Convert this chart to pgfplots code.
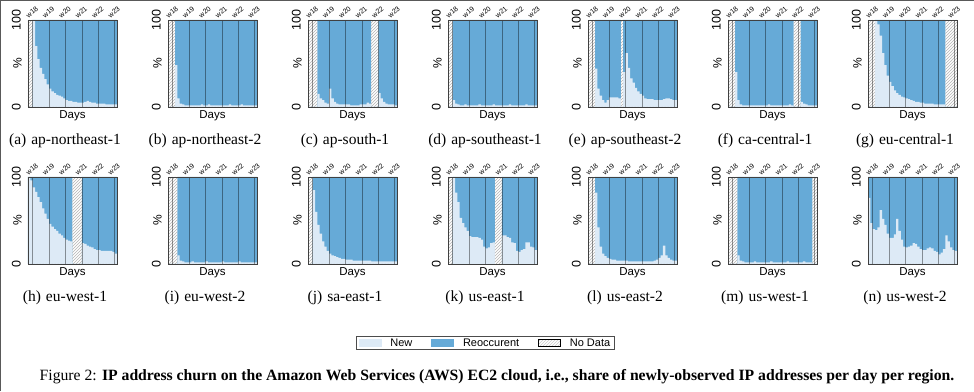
\documentclass[border=0pt]{standalone}
\usepackage{fontspec}
\setmainfont{Liberation Serif}
\setsansfont{Liberation Sans}
\usepackage{graphicx}
\usepackage{pgfplots}
\pgfplotsset{compat=1.18}
\usepackage{pgfplotstable}
\usetikzlibrary{patterns}

\definecolor{newc}{HTML}{DDEAF6}
\definecolor{reoc}{HTML}{66AAD7}
\definecolor{hatchc}{HTML}{B4B4B4}

% columns: day, share of new IPs (%), total (100 = data present), no data (100 = missing)
\pgfplotstableread[row sep=\\]{
d new tot nd\\
0 0 0 100\\1 0 0 100\\2 100 100 0\\3 70 100 0\\4 55 100 0\\5 45 100 0\\6 38 100 0\\7 32 100 0\\8 26 100 0\\9 21 100 0\\
10 18 100 0\\11 16 100 0\\12 14 100 0\\13 13 100 0\\14 12 100 0\\15 10 100 0\\16 8 100 0\\17 7 100 0\\18 7 100 0\\19 6 100 0\\
20 6 100 0\\21 5 100 0\\22 5 100 0\\23 5 100 0\\24 6 100 0\\25 7 100 0\\26 6 100 0\\27 5 100 0\\28 5 100 0\\29 4 100 0\\
30 4 100 0\\31 4 100 0\\32 4 100 0\\33 3 100 0\\34 3 100 0\\35 3 100 0\\36 3 100 0\\37 3 100 0\\
}\tA
\pgfplotstableread[row sep=\\]{
d new tot nd\\
0 0 0 100\\1 0 0 100\\2 0 0 100\\3 48 100 0\\4 10 100 0\\5 4 100 0\\6 3 100 0\\7 2 100 0\\8 2 100 0\\9 2 100 0\\
10 2 100 0\\11 2 100 0\\12 2 100 0\\13 2 100 0\\14 3 100 0\\15 2 100 0\\16 2 100 0\\17 3 100 0\\18 2 100 0\\19 2 100 0\\
20 2 100 0\\21 2 100 0\\22 2 100 0\\23 2 100 0\\24 2 100 0\\25 2 100 0\\26 3 100 0\\27 2 100 0\\28 2 100 0\\29 2 100 0\\
30 2 100 0\\31 3 100 0\\32 2 100 0\\33 2 100 0\\34 2 100 0\\35 2 100 0\\36 2 100 0\\37 2 100 0\\
}\tB
\pgfplotstableread[row sep=\\]{
d new tot nd\\
0 0 0 100\\1 0 0 100\\2 0 0 100\\3 0 0 100\\4 15 100 0\\5 10 100 0\\6 8 100 0\\7 5 100 0\\8 4 100 0\\9 21 100 0\\
10 10 100 0\\11 6 100 0\\12 4 100 0\\13 3 100 0\\14 3 100 0\\15 3 100 0\\16 3 100 0\\17 3 100 0\\18 2 100 0\\19 2 100 0\\
20 2 100 0\\21 2 100 0\\22 3 100 0\\23 3 100 0\\24 3 100 0\\25 5 100 0\\26 4 100 0\\27 0 0 100\\28 0 0 100\\29 0 0 100\\
30 16 100 0\\31 10 100 0\\32 6 100 0\\33 4 100 0\\34 3 100 0\\35 3 100 0\\36 3 100 0\\37 2 100 0\\
}\tC
\pgfplotstableread[row sep=\\]{
d new tot nd\\
0 0 0 100\\1 0 0 100\\2 8 100 0\\3 4 100 0\\4 3 100 0\\5 2 100 0\\6 2 100 0\\7 3 100 0\\8 2 100 0\\9 2 100 0\\
10 2 100 0\\11 2 100 0\\12 2 100 0\\13 3 100 0\\14 2 100 0\\15 2 100 0\\16 2 100 0\\17 2 100 0\\18 2 100 0\\19 3 100 0\\
20 2 100 0\\21 2 100 0\\22 2 100 0\\23 2 100 0\\24 2 100 0\\25 2 100 0\\26 3 100 0\\27 2 100 0\\28 2 100 0\\29 2 100 0\\
30 2 100 0\\31 2 100 0\\32 2 100 0\\33 3 100 0\\34 2 100 0\\35 2 100 0\\36 2 100 0\\37 2 100 0\\
}\tD
\pgfplotstableread[row sep=\\]{
d new tot nd\\
0 0 0 100\\1 0 0 100\\2 0 0 100\\3 44 100 0\\4 21 100 0\\5 13 100 0\\6 8 100 0\\7 5 100 0\\8 8 100 0\\9 11 100 0\\
10 11 100 0\\11 11 100 0\\12 11 100 0\\13 10 100 0\\14 0 0 100\\15 40 100 0\\16 62 100 0\\17 45 100 0\\18 33 100 0\\19 28 100 0\\
20 22 100 0\\21 18 100 0\\22 15 100 0\\23 13 100 0\\24 10 100 0\\25 9 100 0\\26 9 100 0\\27 9 100 0\\28 8 100 0\\29 8 100 0\\
30 8 100 0\\31 8 100 0\\32 9 100 0\\33 10 100 0\\34 10 100 0\\35 9 100 0\\36 8 100 0\\37 8 100 0\\
}\tE
\pgfplotstableread[row sep=\\]{
d new tot nd\\
0 0 0 100\\1 0 0 100\\2 0 0 100\\3 40 100 0\\4 8 100 0\\5 3 100 0\\6 2 100 0\\7 2 100 0\\8 2 100 0\\9 2 100 0\\
10 2 100 0\\11 2 100 0\\12 2 100 0\\13 2 100 0\\14 2 100 0\\15 2 100 0\\16 2 100 0\\17 3 100 0\\18 2 100 0\\19 2 100 0\\
20 2 100 0\\21 2 100 0\\22 2 100 0\\23 2 100 0\\24 2 100 0\\25 2 100 0\\26 3 100 0\\27 2 100 0\\28 0 0 100\\29 0 0 100\\
30 0 0 100\\31 6 100 0\\32 4 100 0\\33 3 100 0\\34 2 100 0\\35 2 100 0\\36 2 100 0\\37 2 100 0\\
}\tF
\pgfplotstableread[row sep=\\]{
d new tot nd\\
0 0 0 100\\1 0 0 100\\2 0 0 100\\3 100 100 0\\4 95 100 0\\5 82 100 0\\6 62 100 0\\7 48 100 0\\8 36 100 0\\9 29 100 0\\
10 24 100 0\\11 19 100 0\\12 16 100 0\\13 14 100 0\\14 12 100 0\\15 11 100 0\\16 10 100 0\\17 9 100 0\\18 8 100 0\\19 7 100 0\\
20 6 100 0\\21 6 100 0\\22 5 100 0\\23 5 100 0\\24 4 100 0\\25 4 100 0\\26 4 100 0\\27 4 100 0\\28 3 100 0\\29 3 100 0\\
30 3 100 0\\31 3 100 0\\32 3 100 0\\33 0 0 100\\34 0 0 100\\35 0 0 100\\36 0 0 100\\37 0 0 100\\
}\tG
\pgfplotstableread[row sep=\\]{
d new tot nd\\
0 100 100 0\\1 96 100 0\\2 88 100 0\\3 83 100 0\\4 77 100 0\\5 71 100 0\\6 64 100 0\\7 58 100 0\\8 52 100 0\\9 46 100 0\\
10 43 100 0\\11 40 100 0\\12 38 100 0\\13 35 100 0\\14 33 100 0\\15 30 100 0\\16 28 100 0\\17 27 100 0\\18 26 100 0\\19 0 0 100\\
20 0 0 100\\21 0 0 100\\22 0 0 100\\23 24 100 0\\24 23 100 0\\25 21 100 0\\26 20 100 0\\27 19 100 0\\28 17 100 0\\29 16 100 0\\
30 16 100 0\\31 15 100 0\\32 15 100 0\\33 15 100 0\\34 15 100 0\\35 15 100 0\\36 14 100 0\\37 12 100 0\\
}\tH
\pgfplotstableread[row sep=\\]{
d new tot nd\\
0 0 0 100\\1 0 0 100\\2 0 0 100\\3 0 0 100\\4 10 100 0\\5 4 100 0\\6 3 100 0\\7 2 100 0\\8 2 100 0\\9 2 100 0\\
10 3 100 0\\11 2 100 0\\12 2 100 0\\13 2 100 0\\14 2 100 0\\15 2 100 0\\16 3 100 0\\17 2 100 0\\18 2 100 0\\19 2 100 0\\
20 2 100 0\\21 2 100 0\\22 2 100 0\\23 3 100 0\\24 2 100 0\\25 2 100 0\\26 2 100 0\\27 2 100 0\\28 2 100 0\\29 2 100 0\\
30 3 100 0\\31 2 100 0\\32 2 100 0\\33 2 100 0\\34 2 100 0\\35 2 100 0\\36 2 100 0\\37 2 100 0\\
}\tI
\pgfplotstableread[row sep=\\]{
d new tot nd\\
0 0 0 100\\1 0 0 100\\2 85 100 0\\3 60 100 0\\4 45 100 0\\5 35 100 0\\6 26 100 0\\7 20 100 0\\8 15 100 0\\9 12 100 0\\
10 10 100 0\\11 9 100 0\\12 8 100 0\\13 7 100 0\\14 6 100 0\\15 6 100 0\\16 5 100 0\\17 5 100 0\\18 5 100 0\\19 4 100 0\\
20 4 100 0\\21 4 100 0\\22 4 100 0\\23 4 100 0\\24 4 100 0\\25 4 100 0\\26 4 100 0\\27 3 100 0\\28 3 100 0\\29 3 100 0\\
30 3 100 0\\31 3 100 0\\32 3 100 0\\33 3 100 0\\34 3 100 0\\35 3 100 0\\36 3 100 0\\37 3 100 0\\
}\tJ
\pgfplotstableread[row sep=\\]{
d new tot nd\\
0 0 0 100\\1 0 0 100\\2 100 100 0\\3 82 100 0\\4 71 100 0\\5 53 100 0\\6 47 100 0\\7 42 100 0\\8 38 100 0\\9 32 100 0\\
10 31 100 0\\11 31 100 0\\12 31 100 0\\13 30 100 0\\14 28 100 0\\15 20 100 0\\16 18 100 0\\17 19 100 0\\18 24 100 0\\19 25 100 0\\
20 0 0 100\\21 0 0 100\\22 0 0 100\\23 33 100 0\\24 33 100 0\\25 31 100 0\\26 30 100 0\\27 25 100 0\\28 24 100 0\\29 15 100 0\\
30 14 100 0\\31 16 100 0\\32 17 100 0\\33 25 100 0\\34 25 100 0\\35 20 100 0\\36 19 100 0\\37 16 100 0\\
}\tK
\pgfplotstableread[row sep=\\]{
d new tot nd\\
0 0 0 100\\1 0 0 100\\2 0 0 100\\3 82 100 0\\4 42 100 0\\5 20 100 0\\6 12 100 0\\7 9 100 0\\8 7 100 0\\9 6 100 0\\
10 5 100 0\\11 5 100 0\\12 4 100 0\\13 4 100 0\\14 4 100 0\\15 4 100 0\\16 4 100 0\\17 3 100 0\\18 3 100 0\\19 3 100 0\\
20 3 100 0\\21 3 100 0\\22 3 100 0\\23 3 100 0\\24 3 100 0\\25 3 100 0\\26 3 100 0\\27 3 100 0\\28 4 100 0\\29 5 100 0\\
30 7 100 0\\31 10 100 0\\32 21 100 0\\33 10 100 0\\34 7 100 0\\35 5 100 0\\36 4 100 0\\37 4 100 0\\
}\tL
\pgfplotstableread[row sep=\\]{
d new tot nd\\
0 0 0 100\\1 0 0 100\\2 0 0 100\\3 0 0 100\\4 10 100 0\\5 4 100 0\\6 3 100 0\\7 2 100 0\\8 2 100 0\\9 2 100 0\\
10 2 100 0\\11 3 100 0\\12 2 100 0\\13 2 100 0\\14 2 100 0\\15 2 100 0\\16 2 100 0\\17 2 100 0\\18 3 100 0\\19 2 100 0\\
20 2 100 0\\21 2 100 0\\22 2 100 0\\23 2 100 0\\24 2 100 0\\25 3 100 0\\26 2 100 0\\27 2 100 0\\28 2 100 0\\29 2 100 0\\
30 2 100 0\\31 2 100 0\\32 3 100 0\\33 2 100 0\\34 2 100 0\\35 2 100 0\\36 0 0 100\\37 0 0 100\\
}\tM
\pgfplotstableread[row sep=\\]{
d new tot nd\\
0 76 100 0\\1 47 100 0\\2 40 100 0\\3 39 100 0\\4 42 100 0\\5 62 100 0\\6 52 100 0\\7 45 100 0\\8 35 100 0\\9 30 100 0\\
10 30 100 0\\11 34 100 0\\12 52 100 0\\13 38 100 0\\14 28 100 0\\15 20 100 0\\16 19 100 0\\17 20 100 0\\18 21 100 0\\19 24 100 0\\
20 23 100 0\\21 20 100 0\\22 17 100 0\\23 16 100 0\\24 16 100 0\\25 18 100 0\\26 19 100 0\\27 18 100 0\\28 15 100 0\\29 14 100 0\\
30 11 100 0\\31 13 100 0\\32 17 100 0\\33 33 100 0\\34 26 100 0\\35 19 100 0\\36 16 100 0\\37 15 100 0\\
}\tN

\pgfplotsset{
  panel/.style={
    scale only axis, width=89pt, height=87pt,
    xmin=-0.5, xmax=37.5, ymin=0, ymax=100, enlargelimits=false,
    axis on top,
    axis line style={black!75, line width=0.5pt},
    xtick={1.5,8.5,15.5,22.5,29.5,36.5},
    xticklabels={w18,w19,w20,w21,w22,w23},
    xticklabel pos=upper,
    xmajorgrids, grid style={black, opacity=0.4, line width=0.7pt},
    major tick length=0pt,
    x tick label style={xshift=-4pt, yshift=1.5pt, rotate=40, anchor=south west, inner sep=0pt,
      font=\sffamily\fontsize{7}{7}\selectfont},
    ytick={0,100},
    yticklabels={0,100},
    y tick label style={rotate=90, anchor=south, inner xsep=0pt, inner ysep=7pt,
      font=\sffamily\fontsize{12.5}{13}\selectfont},
    ylabel={\%},
    ylabel style={at={(axis description cs:0,0.5)}, anchor=south, inner xsep=0pt, inner ysep=6pt,
      font=\sffamily\fontsize{12}{13}\selectfont},
    xlabel={Days},
    xlabel style={at={(axis description cs:0.5,0)}, anchor=north, inner sep=0pt, yshift=-3pt,
      font=\sffamily\fontsize{11.5}{12}\selectfont},
  },
  bars/.style={ybar, bar width=1, bar shift=0pt, draw=none, forget plot},
}

\newcommand\panel[6]{%
  \begin{axis}[panel, at={(#1pt,#2pt)}, #5]
    \addplot[bars, fill=reoc] table[x=d, y=tot] {#3};
    \addplot[bars, fill=newc] table[x=d, y=new] {#3};
    \addplot[bars, pattern=north east lines, pattern color=hatchc] table[x=d, y=nd] {#3};
    #6
  \end{axis}
  \node[anchor=base, font=\fontsize{15.5}{18}\selectfont] at (#1pt+37pt, #2pt-38pt) {#4};
}

\begin{document}
\begin{tikzpicture}
\useasboundingbox (0,0) rectangle (974pt,391pt);
\fill[white] (0,0) rectangle (974pt,391pt);
\draw[black!65, line width=1pt] (0.5pt,0) -- (0.5pt,391pt);
\draw[black!65, line width=1pt] (0,390.5pt) -- (974pt,390.5pt);

\panel{28}{284}{\tA}{(a)\hspace{5pt}ap-northeast-1}{}{}
\panel{168}{284}{\tB}{(b)\hspace{5pt}ap-northeast-2}{}{}
\panel{308}{284}{\tC}{(c)\hspace{5pt}ap-south-1}{}{}
\panel{448}{284}{\tD}{(d)\hspace{5pt}ap-southeast-1}{}{}
\panel{588}{284}{\tE}{(e)\hspace{5pt}ap-southeast-2}{}{}
\panel{728}{284}{\tF}{(f)\hspace{5pt}ca-central-1}{}{}
\panel{868}{284}{\tG}{(g)\hspace{5pt}eu-central-1}{}{}

\panel{28}{127}{\tH}{(h)\hspace{5pt}eu-west-1}{}{}
\panel{168}{127}{\tI}{(i)\hspace{5pt}eu-west-2}{}{}
\panel{308}{127}{\tJ}{(j)\hspace{5pt}sa-east-1}{}{}
\panel{448}{127}{\tK}{(k)\hspace{5pt}us-east-1}{
  legend style={at={(axis description cs:0.416,-0.908)}, anchor=center, legend columns=3,
    draw=black!70, line width=0.6pt, fill=white,
    font=\sffamily\fontsize{11}{12}\selectfont,
    inner xsep=3pt, inner ysep=1pt,
    nodes={inner sep=1pt},
    /tikz/every odd column/.append style={column sep=8pt},
    /tikz/every even column/.append style={column sep=18pt}},
  legend cell align=left}{%
  \addlegendimage{legend image code/.code={\fill[newc] (0pt,-3.5pt) rectangle (22pt,3.5pt);}}
  \addlegendimage{legend image code/.code={\fill[reoc] (0pt,-3.5pt) rectangle (22pt,3.5pt);}}
  \addlegendimage{legend image code/.code={\fill[pattern=north east lines, pattern color=hatchc!70] (0pt,-3.5pt) rectangle (22pt,3.5pt);}}
  \legend{New, Reoccurent, No Data}}
\panel{588}{127}{\tL}{(l)\hspace{5pt}us-east-2}{}{}
\panel{728}{127}{\tM}{(m)\hspace{5pt}us-west-1}{}{}
\panel{868}{127}{\tN}{(n)\hspace{5pt}us-west-2}{}{}

\node[anchor=base, font=\fontsize{15.7}{18}\selectfont] at (497pt,11pt)
  {Figure 2: \textbf{IP address churn on the Amazon Web Services (AWS) EC2 cloud, i.e., share of newly-observed IP addresses per day per region.}};
\end{tikzpicture}
\end{document}
